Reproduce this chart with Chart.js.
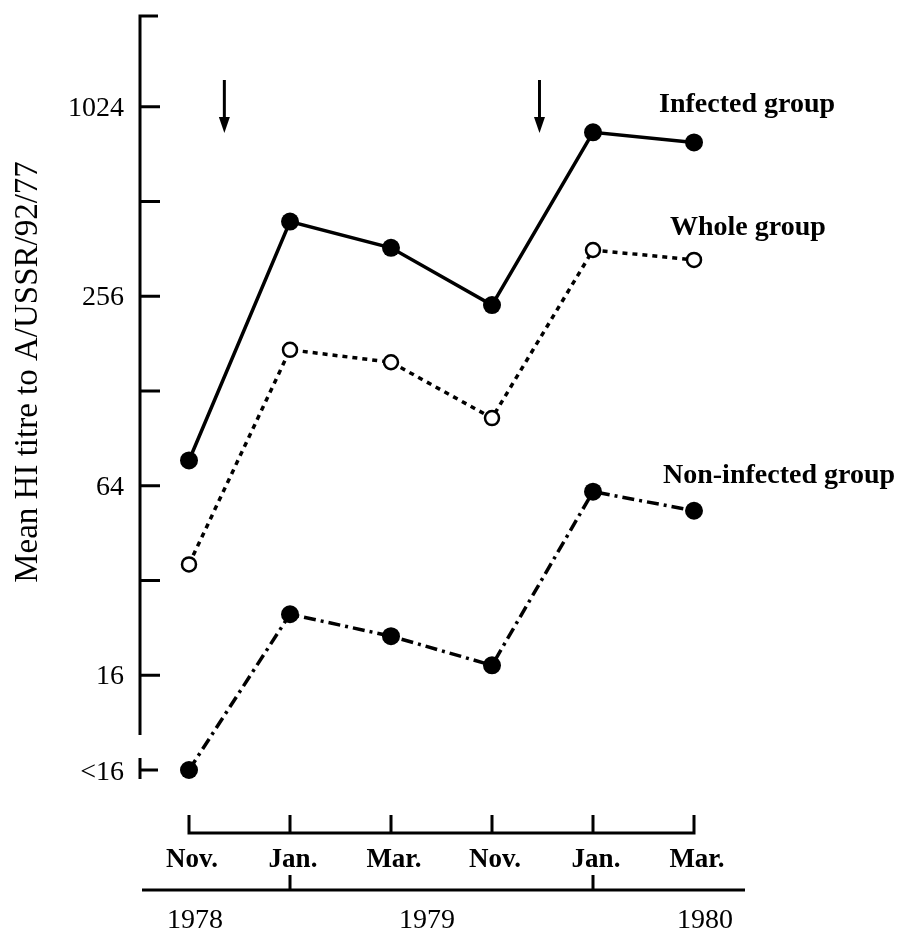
<!DOCTYPE html>
<html>
<head>
<meta charset="utf-8">
<script src="https://cdn.jsdelivr.net/npm/chart.js@4"></script>
<style>
  html, body { margin: 0; padding: 0; background: #fff; }
</style>
</head>
<body>
<canvas id="titreChart" width="900" height="933"></canvas>
<script>
// values (log2 axis, "<16" plotted as 8)
const months = ['Nov.', 'Jan.', 'Mar.', 'Nov.', 'Jan.', 'Mar.'];
const years = ['1978', '1979', '1980'];
const yearBreaks = [1, 4];            // month index where a new year starts
const infected = [77, 442, 365, 240, 849, 789];
const whole = [36, 173, 158, 105, 359, 334];
const nonInfected = [8, 25, 21.3, 17.2, 61.3, 53.3];
const yTicks = [16, 32, 64, 128, 256, 512, 1024];
const yTickLabels = ['16', '', '64', '', '256', '', '1024'];
const belowDetection = 8;             // shown as "<16"
const arrowsAt = [0.35, 3.47];        // month index of the arrows
const seriesNames = ['Infected group', 'Whole group', 'Non-infected group'];

const serif = '"Liberation Serif", "Times New Roman", serif';

const axisPlugin = {
  id: 'axisPlugin',
  afterDraw(chart) {
    const { ctx } = chart;
    const x = chart.scales.x, y = chart.scales.y;
    const ax = 140;
    ctx.save();
    ctx.strokeStyle = '#000';
    ctx.fillStyle = '#000';
    ctx.lineWidth = 3;
    ctx.lineJoin = 'miter';

    // y axis with ticks pointing inwards
    ctx.beginPath();
    ctx.moveTo(ax + 18, 16);
    ctx.lineTo(ax, 16);
    ctx.lineTo(ax, 735);
    yTicks.forEach(v => {
      const py = y.getPixelForValue(v);
      ctx.moveTo(ax, py);
      ctx.lineTo(ax + 20, py);
    });
    const pb = y.getPixelForValue(belowDetection);
    ctx.moveTo(ax, pb - 12);
    ctx.lineTo(ax, pb + 9);
    ctx.moveTo(ax, pb);
    ctx.lineTo(ax + 18, pb);
    ctx.stroke();

    ctx.font = '28px ' + serif;
    ctx.textAlign = 'right';
    ctx.textBaseline = 'alphabetic';
    yTicks.forEach((v, i) => {
      if (yTickLabels[i]) ctx.fillText(yTickLabels[i], 124, y.getPixelForValue(v) + 9);
    });
    ctx.fillText('<16', 124, pb + 10);

    // month axis
    const ly = 833;
    const x0 = x.getPixelForValue(0), x5 = x.getPixelForValue(months.length - 1);
    ctx.beginPath();
    ctx.moveTo(x0, ly - 18);
    ctx.lineTo(x0, ly);
    ctx.lineTo(x5, ly);
    ctx.lineTo(x5, ly - 18);
    for (let i = 1; i < months.length - 1; i++) {
      const px = x.getPixelForValue(i);
      ctx.moveTo(px, ly - 18);
      ctx.lineTo(px, ly);
    }
    ctx.stroke();
    ctx.font = 'bold 27px ' + serif;
    ctx.textAlign = 'center';
    months.forEach((m, i) => ctx.fillText(m, x.getPixelForValue(i) + 3, 867));

    // year axis
    const yy = 890;
    ctx.beginPath();
    ctx.moveTo(142, yy);
    ctx.lineTo(745, yy);
    yearBreaks.forEach(b => {
      const px = x.getPixelForValue(b);
      ctx.moveTo(px, yy - 15);
      ctx.lineTo(px, yy);
    });
    ctx.stroke();
    ctx.font = '28px ' + serif;
    const yearX = [195, 427, 705];
    years.forEach((t, i) => ctx.fillText(t, yearX[i], 928));

    // arrows
    arrowsAt.forEach(a => {
      const px = x.getPixelForValue(a);
      ctx.beginPath();
      ctx.moveTo(px, 80);
      ctx.lineTo(px, 120);
      ctx.stroke();
      ctx.beginPath();
      ctx.moveTo(px - 5.5, 117);
      ctx.lineTo(px + 5.5, 117);
      ctx.lineTo(px, 133);
      ctx.closePath();
      ctx.fill();
    });

    // series names
    ctx.font = 'bold 28px ' + serif;
    ctx.textAlign = 'left';
    ctx.fillText(seriesNames[0], 659, 112);
    ctx.fillText(seriesNames[1], 670, 235);
    ctx.fillText(seriesNames[2], 663, 483);

    // y axis title
    ctx.save();
    ctx.translate(37, 372);
    ctx.rotate(-Math.PI / 2);
    ctx.font = '33px ' + serif;
    ctx.textAlign = 'center';
    ctx.fillText('Mean HI titre to A/USSR/92/77', 0, 0);
    ctx.restore();

    ctx.restore();
  }
};

const ctx = document.getElementById('titreChart').getContext('2d');
const titreChart = new Chart(ctx, {
  type: 'line',
  data: {
    labels: months,
    datasets: [{
      label: seriesNames[0],
      data: infected,
      borderColor: '#000',
      borderWidth: 3.5,
      pointRadius: 9,
      pointBackgroundColor: '#000',
      pointBorderWidth: 0,
      clip: false
    },
    {
      label: seriesNames[1],
      data: whole,
      borderColor: '#000',
      borderWidth: 3.5,
      borderDash: [5, 5],
      pointRadius: 7,
      pointBackgroundColor: '#fff',
      pointBorderColor: '#000',
      pointBorderWidth: 2.5,
      clip: false
    },
    {
      label: seriesNames[2],
      data: nonInfected,
      borderColor: '#000',
      borderWidth: 3.5,
      borderDash: [12, 5, 3, 5],
      pointRadius: 9,
      pointBackgroundColor: '#000',
      pointBorderWidth: 0,
      clip: false
    }]
  },
  options: {
    responsive: false,
    animation: false,
    layout: { padding: { left: 189, right: 206, top: 12, bottom: 163 } },
    scales: {
      x: { type: 'category', offset: false, display: false },
      y: { type: 'logarithmic', min: 8, max: 2048, display: false }
    },
    plugins: { legend: { display: false }, tooltip: { enabled: false } }
  },
  plugins: [axisPlugin]
});
</script>
</body>
</html>
